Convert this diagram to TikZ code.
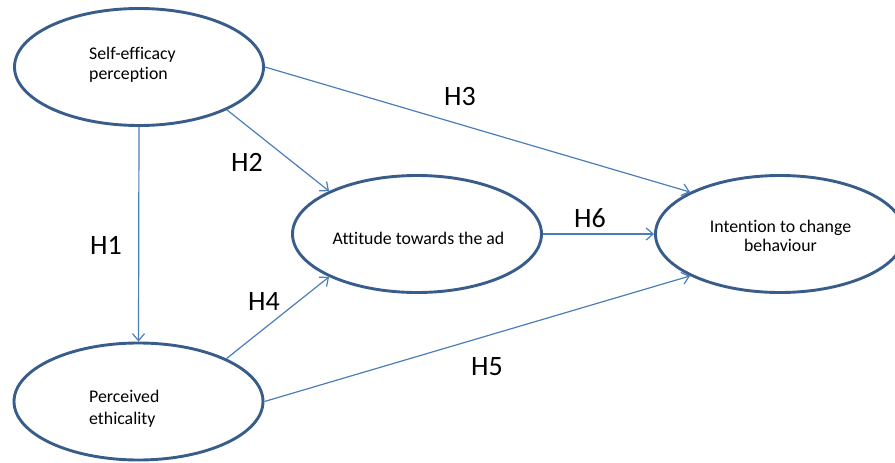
\documentclass[tikz,border=0pt]{standalone}
\usepackage{fontspec}
\setmainfont{Carlito}[Ligatures=CommonOff]
\usetikzlibrary{shapes.geometric,arrows.meta}
\definecolor{ovalblue}{HTML}{385D8A}
\definecolor{linkblue}{HTML}{4A7EBB}
\begin{document}
\begin{tikzpicture}[x=1pt,y=-1pt,
  oval/.style={ellipse, draw=ovalblue, line width=2.9pt, fill=white,
    minimum width=249pt, minimum height=117pt, inner sep=0pt},
  link/.style={draw=linkblue, line width=1.2pt,
    -{Straight Barb[length=7pt,width=12pt]}},
  txt/.style={font=\fontsize{17.8}{21.7}\selectfont, inner sep=0pt},
  hyp/.style={font=\fontsize{28}{32}\selectfont, inner sep=0pt}]
\useasboundingbox (0,0) rectangle (895,463);

\node[oval] (se) at (139,67) {};
\node[oval] (pe) at (138.5,401.5) {};
\node[oval] (att) at (417,234) {};
\node[oval] (int) at (780,234) {};

\node[txt, anchor=base west] (se1) at (89,59) {Self-efficacy};
\node[txt, anchor=base west] (se2) at (89,79) {perception};
\node[txt, anchor=base west] (pe1) at (89,402) {Perceived};
\node[txt, anchor=base west] (pe2) at (89,424) {ethicality};
\node[txt, anchor=base] (att1) at (418.5,244) {Attitude towards the ad};
\node[txt, anchor=base] (int1) at (780.5,232) {Intention to change};
\node[txt, anchor=base] (int2) at (780.5,251) {behaviour};

\draw[link] (se.south) -- (pe.north);
\draw[link] (se.-26) -- (att.154);
\draw[link] (se.east) -- (int.155);
\draw[link] (pe.26) -- (att.206);
\draw[link] (pe.east) -- (int.205);
\draw[link] (att.east) -- (int.west);

\node[hyp] (h1) at (106,245) {H1};
\node[hyp] (h2) at (247,162) {H2};
\node[hyp] (h3) at (460,97) {H3};
\node[hyp] (h4) at (264,302) {H4};
\node[hyp] (h5) at (487,367) {H5};
\node[hyp] (h6) at (590,218) {H6};
\end{tikzpicture}
\end{document}
